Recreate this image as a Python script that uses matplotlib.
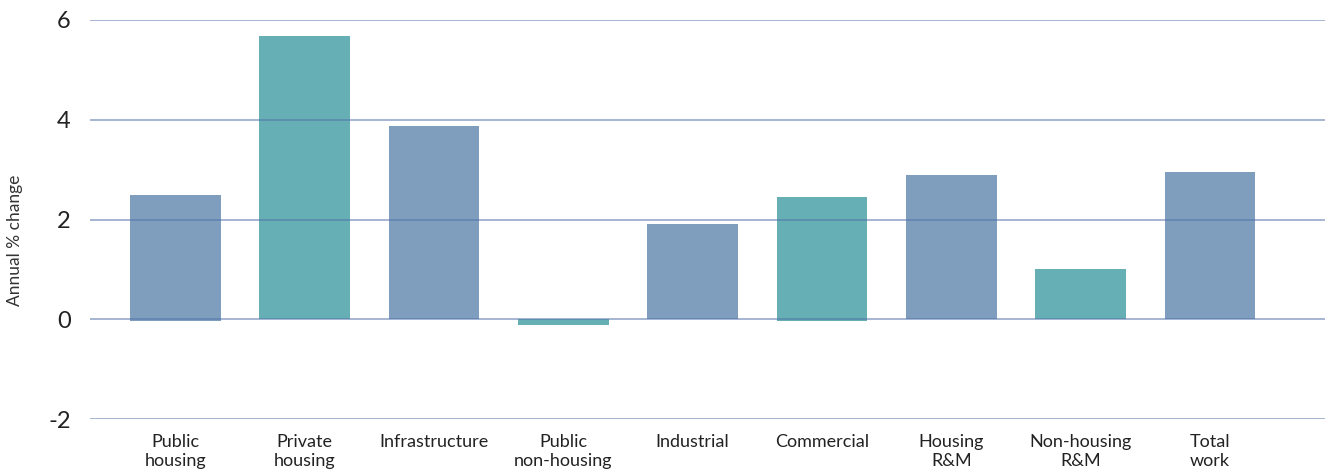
import numpy as np
import matplotlib.pyplot as plt

plt.rcParams['font.family'] = ['Lato', 'DejaVu Sans']
plt.rcParams['axes.unicode_minus'] = False

# Annual % change by construction sector
categories = ['Public\nhousing', 'Private\nhousing', 'Infrastructure', 'Public\nnon-housing',
              'Industrial', 'Commercial', 'Housing\nR&M', 'Non-housing\nR&M', 'Total\nwork']
values = [2.5, 5.68, 3.88, -0.12, 1.9, 2.46, 2.9, 1.0, 2.96]
bottoms = [-0.04, 0, 0, 0, 0, -0.03, 0, 0, 0]
is_private = [False, True, False, True, False, True, False, True, False]

blue = '#7F9EBE'
teal = '#66B0B5'
colors = [teal if p else blue for p in is_private]

fig = plt.figure(figsize=(13.25, 4.76), dpi=100)
ax = fig.add_axes([90 / 1325, 1 - 419 / 476, 1 - 90 / 1325, 399 / 476])

x = np.arange(len(categories))
heights = [v - b for v, b in zip(values, bottoms)]
ax.bar(x, heights, bottom=bottoms, width=0.70, color=colors, zorder=1)

# gridlines drawn over the bars
ax.set_ylim(-2, 6)
ax.set_yticks([-2, 0, 2, 4, 6])
ax.grid(axis='y', color='#4E70A8', alpha=0.55, linewidth=1.3, zorder=3)
ax.set_axisbelow(False)
ax.set_xlim(-0.66, 8.89)

ax.set_xticks(x)
ax.set_xticklabels(categories, fontsize=13, color='#222222', linespacing=1.2)
ax.tick_params(axis='x', length=0, pad=11)
ax.tick_params(axis='y', length=0, pad=14, labelsize=17, labelcolor='#222222')

for s in ax.spines.values():
    s.set_visible(False)

fig.text(15 / 1325, 1 - 240 / 476, 'Annual % change', rotation=90,
         ha='center', va='center', fontsize=12.5, color='#333333')

fig.savefig('out.png', dpi=100)
